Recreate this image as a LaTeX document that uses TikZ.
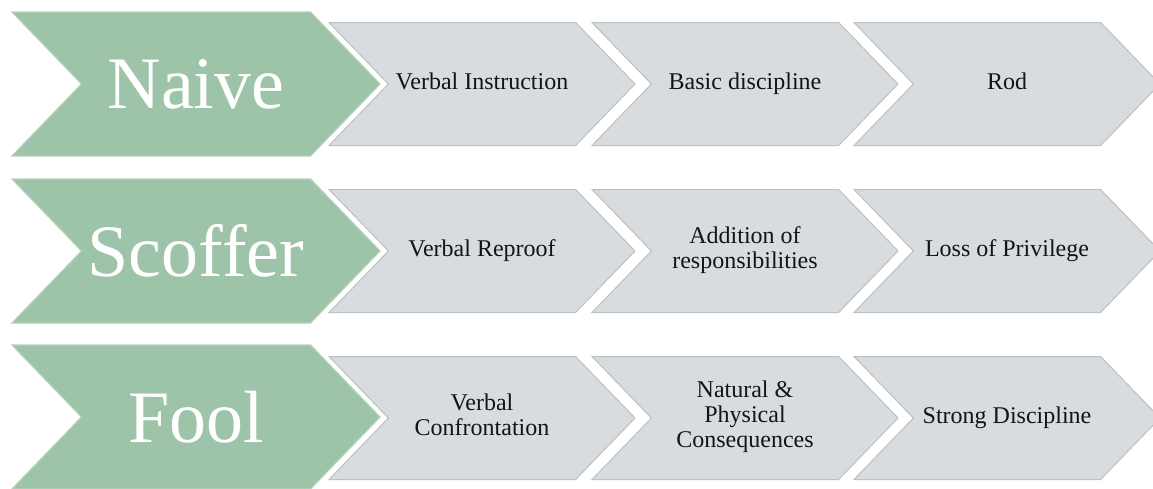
\documentclass[tikz,border=0pt]{standalone}
\usepackage{fontspec}
\setmainfont{Liberation Serif}
\usetikzlibrary{shapes.symbols}
\definecolor{stagegreen}{RGB}{157,196,168}
\definecolor{stageedge}{RGB}{178,210,186}
\definecolor{actgray}{RGB}{216,220,222}
\definecolor{actedge}{RGB}{188,193,196}
\definecolor{textdark}{RGB}{20,20,20}

\begin{document}
\begin{tikzpicture}[x=1pt, y=-1pt,
	stage_style/.style={
	    shape=signal, signal to=east, signal from=west,
	    signal pointer angle=92,
	    fill=stagegreen, draw=stageedge, line width=1.2pt,
	    minimum width=368pt, minimum height=144pt,
	    inner sep=0pt, outer sep=0pt,
	    text=white, font=\fontsize{74}{80}\selectfont
	    },
	act_style/.style={
	    shape=signal, signal to=east, signal from=west,
	    signal pointer angle=92,
	    fill=actgray, draw=actedge, line width=1pt,
	    minimum width=306pt, minimum height=123pt,
	    inner sep=0pt, outer sep=0pt, align=center,
	    execute at begin node=\strut, execute at end node=\strut,
	    text=textdark, font=\fontsize{24}{25}\selectfont
	    }
	]
	\useasboundingbox (0,0) rectangle (1153,488);

	% first row
	\node[stage_style] (naive) at (196,84) {Naive};
	\node[act_style] (naive1) at (482,84) {Verbal Instruction};
	\node[act_style] (naive2) at (745,84) {Basic discipline};
	\node[act_style] (naive3) at (1007,84) {Rod};

	% second row
	\node[stage_style] (scoffer) at (196,251) {Scoffer};
	\node[act_style] (scoffer1) at (482,251) {Verbal Reproof};
	\node[act_style] (scoffer2) at (745,251) {Addition of\\responsibilities};
	\node[act_style] (scoffer3) at (1007,251) {Loss of Privilege};

	% third row
	\node[stage_style] (fool) at (196,417) {Fool};
	\node[act_style] (fool1) at (482,418) {Verbal\\Confrontation};
	\node[act_style] (fool2) at (745,418) {Natural \&\\Physical\\Consequences};
	\node[act_style] (fool3) at (1007,418) {Strong Discipline};
\end{tikzpicture}
\end{document}
